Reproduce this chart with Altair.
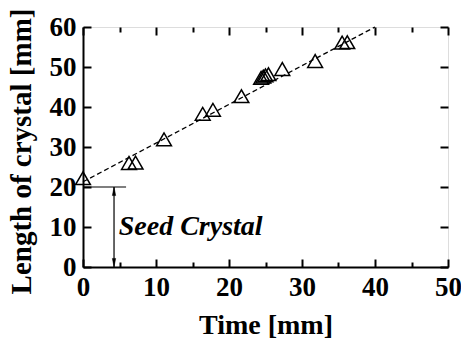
import altair as alt
import pandas as pd

# data
time_vals = [0, 6.3, 7.2, 11.1, 16.4, 17.8, 21.7, 24.4, 24.7, 25.0, 25.4, 27.3, 31.8, 35.5, 36.2]
length_vals = [22.2, 26.0, 26.1, 31.9, 38.3, 39.3, 42.7, 47.3, 47.6, 47.9, 48.2, 49.5, 51.5, 56.1, 56.2]
fit_t = [0, 40]
fit_L = [21.3, 60]
seed_t = [0, 5.9]
seed_L = [20, 20]
arrow_t = 4.25
arrow_L = [0, 20]
x_major = [0, 10, 20, 30, 40, 50]
x_minor = [5, 15, 25, 35, 45]
y_major = [0, 10, 20, 30, 40, 50, 60]

W, H = 365, 240
FONT = "Liberation Serif"

xs = alt.Scale(domain=[0, 50], nice=False)
ys = alt.Scale(domain=[0, 60], nice=False)

pts = pd.DataFrame({"t": time_vals, "L": length_vals})
fit = pd.DataFrame({"t": fit_t, "L": fit_L})
seed = pd.DataFrame({"t": seed_t, "L": seed_L})
arrow = pd.DataFrame({"t": [arrow_t] * 2, "L": arrow_L})
heads = pd.DataFrame({"t": [arrow_t, arrow_t], "L": [arrow_L[1] - 1.1, arrow_L[0] + 1.1],
                      "dir": ["up", "down"]})
label = pd.DataFrame({"t": [4.9], "L": [10], "txt": ["Seed Crystal"]})

xaxis = alt.Axis(values=x_major, ticks=False, grid=False, domainColor="black", domainWidth=2,
                 labelFont=FONT, labelFontSize=27, labelFontWeight="bold", labelColor="black",
                 labelPadding=7, labelFlush=False, labelOverlap=False, title="Time [mm]", titleFont=FONT,
                 titleFontSize=28, titleFontWeight="bold", titleColor="black",
                 titleBaseline="alphabetic", titleY=66, titleX=W / 2, orient="bottom")
yaxis = alt.Axis(values=y_major, ticks=False, grid=False, domainColor="black", domainWidth=2,
                 labelFont=FONT, labelFontSize=27, labelFontWeight="bold", labelColor="black",
                 labelPadding=7, labelFlush=False, labelOverlap=False, title="Length of crystal [mm]",
                 titleFont=FONT, titleFontSize=29, titleFontWeight="bold", titleColor="black",
                 titleBaseline="alphabetic", titleX=-53, titleY=124, titleAngle=-90, orient="left")


def tick_axis(values, orient, offset, size):
    # an axis moved onto the opposite edge so its ticks point into the plot
    return alt.Axis(values=values, orient=orient, offset=offset, tickSize=size, tickWidth=2,
                    tickColor="black", ticks=True, labels=False, domain=False, grid=False, title="")


base_pts = alt.Chart(pts).mark_point(shape="triangle-up", size=220, filled=False,
                                     color="black", strokeWidth=1.5, opacity=1).encode(
    x=alt.X("t:Q", scale=xs, axis=xaxis), y=alt.Y("L:Q", scale=ys, axis=yaxis))

# dashed fit line, carrying inward ticks at the bottom (x) and at the left (y)
fit_line = alt.Chart(fit).mark_line(color="black", strokeWidth=1.3, strokeDash=[5, 3]).encode(
    x=alt.X("t:Q", scale=xs, axis=tick_axis(x_major, "top", -H, 8)),
    y=alt.Y("L:Q", scale=ys, axis=tick_axis(y_major, "right", -W, 8)))

# seed line, carrying inward ticks at the top (x) and at the right (y)
seed_line = alt.Chart(seed).mark_line(color="black", strokeWidth=1.2).encode(
    x=alt.X("t:Q", scale=xs, axis=tick_axis(x_major, "bottom", -H, 8)),
    y=alt.Y("L:Q", scale=ys, axis=tick_axis(y_major, "left", -W, 8)))

# arrow shaft, carrying minor ticks at the bottom
arrow_line = alt.Chart(arrow).mark_line(color="black", strokeWidth=1.2).encode(
    x=alt.X("t:Q", scale=xs, axis=tick_axis(x_minor, "top", -H, 5)),
    y=alt.Y("L:Q", scale=ys, axis=None))

# arrow heads, carrying minor ticks at the top
head_marks = alt.Chart(heads).mark_point(filled=True, fill="black", stroke="black",
                                         strokeWidth=0.5, size=70, opacity=1).encode(
    x=alt.X("t:Q", scale=xs, axis=tick_axis(x_minor, "bottom", -H, 5)),
    y=alt.Y("L:Q", scale=ys, axis=None),
    shape=alt.Shape("dir:N", scale=alt.Scale(domain=["up", "down"],
                                             range=["M0,-1L-0.4,1L0.4,1Z", "M0,1L-0.4,-1L0.4,-1Z"]),
                    legend=None))

txt = alt.Chart(label).mark_text(font=FONT, fontSize=28, fontWeight="bold", fontStyle="italic",
                                 align="left", baseline="middle", color="black").encode(
    x=alt.X("t:Q", scale=xs, axis=None), y=alt.Y("L:Q", scale=ys, axis=None), text="txt:N")

chart = alt.layer(
    base_pts, fit_line, seed_line, arrow_line, head_marks, txt,
).resolve_axis(x="independent", y="independent").properties(
    width=W, height=H,
    autosize=alt.AutoSizeParams(type="none"),
    padding={"left": 83, "top": 27, "right": 13, "bottom": 73},
).configure_view(stroke="black", strokeWidth=2).configure(background="white")

chart.save("out.html", embed_options={"renderer": "svg", "actions": False})
